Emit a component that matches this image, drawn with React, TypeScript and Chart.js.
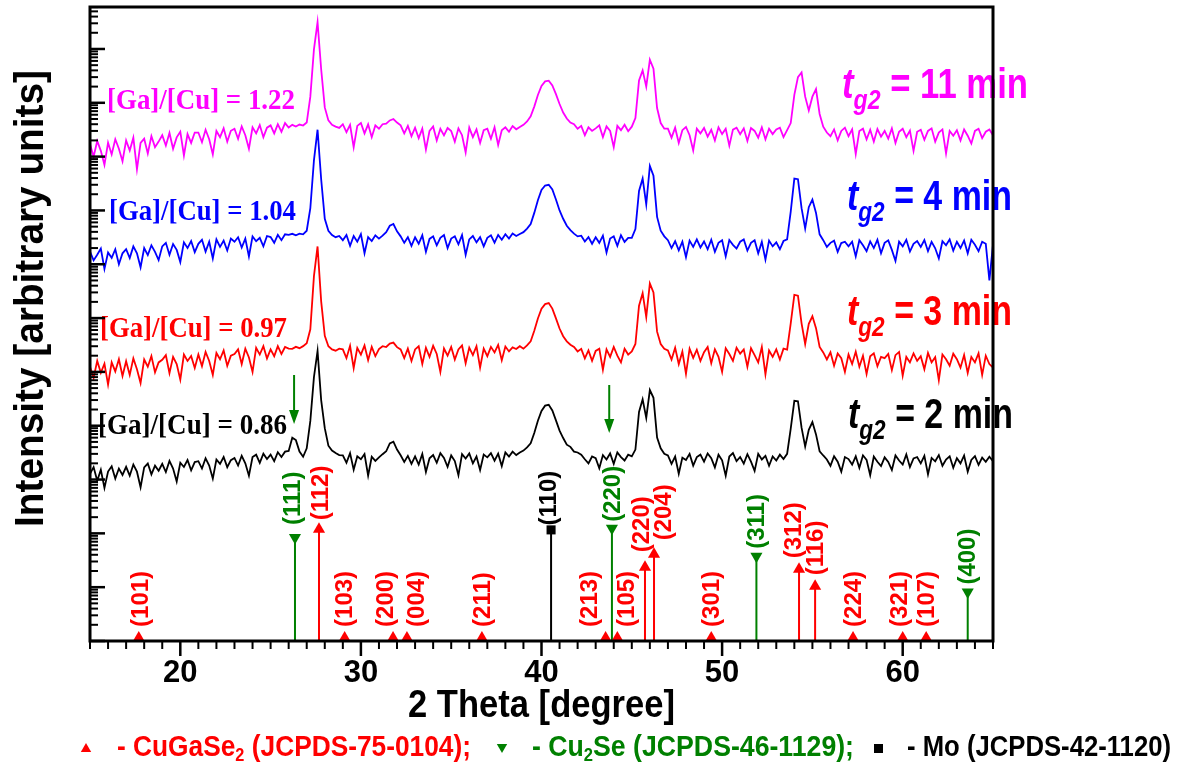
import React, { useEffect, useRef } from 'react';
import { Chart, registerables } from 'chart.js';

Chart.register(...registerables);

// ---- scan grid (2θ, degrees) ----
const TWO_THETA_START = 15;
const TWO_THETA_STEP = 0.2;

// ---- XRD scans (counts), one per growth time ----
// t_g2 = 2 min, [Ga]/[Cu] = 0.86
const counts2min = [
  128, 170, 95, 152, 70, 141, 176, 104, 160, 122,
  172, 118, 190, 140, 72, 168, 198, 125, 181, 146,
  196, 138, 222, 160, 92, 205, 171, 230, 148, 211,
  219, 160, 248, 182, 104, 236, 196, 262, 170, 229,
  252, 182, 276, 200, 118, 262, 290, 204, 302, 240,
  290, 220, 322, 262, 330, 340, 600, 540, 330, 265,
  380, 1230, 8000, 24500, 3000, 900, 425, 345, 310, 285,
  282, 205, 310, 152, 271, 238, 298, 118, 265, 222,
  258, 296, 335, 470, 505, 360, 282, 212, 275, 196,
  270, 190, 298, 138, 248, 285, 205, 310, 252, 172,
  281, 221, 120, 296, 246, 305, 200, 268, 150, 290,
  258, 310, 224, 302, 178, 320, 268, 330, 285, 318,
  345, 395, 470, 730, 1240, 1880, 2360, 2450, 1920, 1260,
  810, 590, 445, 405, 330, 318, 290, 238, 200, 268,
  250, 162, 285, 236, 305, 196, 320, 262, 226, 290,
  270, 360, 1800, 3100, 1400, 4600, 3300, 600, 380, 300,
  280, 196, 268, 128, 255, 230, 300, 182, 262, 290,
  215, 305, 250, 168, 290, 228, 118, 268, 310, 220,
  262, 198, 296, 215, 145, 300, 236, 276, 180, 268,
  226, 290, 240, 300, 880, 2900, 2850, 920, 410, 840,
  1170, 690, 335, 280, 236, 180, 272, 215, 140, 262,
  240, 190, 270, 165, 282, 232, 120, 268, 214, 178,
  258, 212, 150, 280, 226, 190, 292, 170, 246, 262,
  200, 275, 125, 252, 218, 285, 180, 236, 270, 165,
  250, 200, 280, 140, 232, 272, 188, 256, 214, 266,
  220,
];
// t_g2 = 3 min, [Ga]/[Cu] = 0.97
const counts3min = [
  125, 78, 160, 96, 142, 58, 150, 102, 172, 84,
  158, 88, 178, 112, 62, 170, 125, 196, 98, 150,
  168, 205, 95, 190, 140, 72, 210, 160, 198, 118,
  210, 128, 235, 160, 88, 225, 172, 250, 130, 200,
  215, 262, 140, 270, 185, 100, 280, 210, 300, 178,
  262, 196, 300, 215, 290, 271, 268, 292, 276, 301,
  340, 620, 6000, 21400, 2050, 470, 300, 262, 248, 271,
  262, 180, 305, 118, 280, 210, 310, 165, 292, 196,
  265, 300, 290, 335, 350, 288, 262, 180, 270, 160,
  262, 300, 140, 280, 190, 305, 215, 100, 272, 200,
  290, 170, 262, 310, 145, 282, 205, 300, 120, 270,
  196, 292, 230, 318, 165, 296, 240, 285, 266, 300,
  270, 310, 370, 580, 980, 1500, 1820, 1900, 1500, 990,
  640, 460, 370, 320, 290, 240, 268, 178, 250, 160,
  245, 270, 110, 262, 190, 290, 200, 150, 270, 210,
  240, 330, 1700, 2900, 1050, 4400, 3000, 560, 330, 270,
  250, 170, 280, 140, 238, 92, 270, 182, 258, 160,
  232, 290, 145, 262, 190, 100, 275, 215, 160, 280,
  218, 262, 125, 275, 205, 150, 290, 90, 250, 190,
  262, 170, 270, 260, 800, 2700, 2600, 800, 330, 780,
  1080, 650, 290, 230, 170, 232, 130, 220, 180, 100,
  210, 140, 236, 125, 200, 92, 195, 222, 128, 190,
  180, 215, 108, 205, 235, 85, 190, 150, 220, 160,
  196, 112, 225, 150, 188, 70, 210, 172, 130, 218,
  172, 120, 205, 96, 190, 150, 222, 88, 200, 140,
  120,
];
// t_g2 = 4 min, [Ga]/[Cu] = 1.04
const counts4min = [
  172, 118, 150, 195, 82, 165, 132, 190, 100, 160,
  190, 130, 215, 160, 88, 200, 148, 225, 170, 120,
  215, 250, 150, 238, 185, 110, 255, 200, 270, 168,
  240, 285, 172, 262, 128, 290, 210, 275, 180, 300,
  262, 318, 205, 300, 140, 330, 268, 310, 215, 335,
  320, 250, 352, 280, 360, 352, 368, 345, 371, 360,
  420, 1100, 8500, 31600, 3800, 700, 420, 350, 318, 335,
  280, 350, 220, 335, 262, 362, 160, 320, 270, 345,
  300, 340, 395, 520, 560, 410, 330, 250, 318, 220,
  318, 240, 345, 170, 296, 330, 225, 310, 350, 200,
  300, 330, 235, 348, 150, 290, 335, 255, 318, 215,
  310, 345, 252, 350, 285, 362, 300, 372, 336, 365,
  395, 460, 560, 900, 1550, 2400, 2900, 3000, 2450, 1600,
  1000, 700, 520, 430, 370, 330, 340, 265, 320, 240,
  318, 250, 340, 165, 300, 330, 220, 345, 260, 310,
  310, 450, 2300, 3900, 1300, 6700, 4400, 760, 420, 330,
  280, 200, 268, 182, 262, 135, 275, 210, 290, 205,
  265, 190, 285, 170, 250, 278, 140, 282, 230, 196,
  262, 290, 180, 250, 280, 160, 260, 122, 275, 215,
  255, 190, 270, 290, 950, 3900, 3800, 1100, 460, 1150,
  1590, 900, 360, 280, 210, 250, 275, 170, 248, 262,
  215, 262, 140, 280, 225, 175, 266, 200, 285, 160,
  250, 278, 185, 115, 262, 215, 285, 172, 240, 270,
  210, 282, 175, 260, 198, 128, 268, 225, 290, 180,
  262, 200, 275, 160, 285, 230, 175, 262, 240, 50,
  231,
];
// t_g2 = 11 min, [Ga]/[Cu] = 1.22
const counts11min = [
  170, 100, 195, 128, 70, 182, 110, 210, 140, 82,
  200, 130, 225, 58, 180, 215, 115, 240, 150, 190,
  250, 160, 275, 140, 228, 290, 105, 262, 180, 280,
  280, 185, 315, 210, 110, 300, 230, 335, 190, 302,
  330, 215, 365, 250, 140, 350, 270, 385, 230, 345,
  380, 270, 400, 290, 420, 348, 389, 362, 395, 378,
  430, 1300, 9800, 31600, 4200, 820, 470, 390, 362, 341,
  400, 285, 390, 150, 372, 420, 270, 398, 230, 380,
  330, 400, 410, 470, 500, 430, 380, 270, 372, 240,
  345, 220, 330, 135, 300, 362, 200, 330, 248, 340,
  300, 190, 335, 250, 120, 345, 230, 320, 180, 310,
  330, 215, 350, 165, 310, 350, 290, 370, 322, 356,
  390, 450, 560, 850, 1400, 2050, 2500, 2570, 2100, 1450,
  950, 660, 510, 430, 400, 330, 372, 250, 350, 300,
  335, 380, 230, 365, 300, 150, 372, 310, 390, 296,
  360, 520, 2600, 4000, 2000, 6300, 4300, 800, 420, 330,
  330, 225, 345, 180, 310, 355, 250, 130, 330, 270,
  340, 235, 315, 200, 350, 262, 330, 160, 318, 345,
  260, 335, 195, 340, 300, 225, 350, 210, 330, 262,
  320, 345, 230, 310, 420, 1400, 3000, 3650, 1300, 720,
  1300, 1800, 620, 360, 280, 240, 320, 200, 300, 345,
  240, 320, 112, 300, 330, 210, 315, 190, 325, 235,
  300, 215, 335, 180, 290, 330, 230, 305, 128, 290,
  315, 205, 300, 335, 190, 280, 320, 115, 300, 245,
  310, 200, 320, 245, 175, 300, 330, 220, 290, 320,
  250,
];

// multiplicative offsets used to stack the scans on the log axis
const scanOffsets = [10, 1e3, 1e5, 1e7];
const scanRatios = ['[Ga]/[Cu] = 0.86', '[Ga]/[Cu] = 0.97', '[Ga]/[Cu] = 1.04', '[Ga]/[Cu] = 1.22'];
const scanTimes = [' = 2 min', ' = 3 min', ' = 4 min', ' = 11 min'];

// ---- JCPDS reference lines (2θ, relative intensity, hkl) ----
const cgsTwoTheta = [17.7, 27.68, 29.1, 31.78, 32.55, 36.7, 43.55, 44.2, 45.73, 46.23, 49.4, 54.26, 55.15, 57.25, 60.0, 61.3];
const cgsIntensity = [1.14, 119, 1.14, 1.14, 1.14, 1.14, 1.14, 1.14, 23.4, 40.8, 1.14, 21.5, 10.4, 1.14, 1.14, 1.14];
const cgsHkl = ['(101)', '(112)', '(103)', '(200)', '(004)', '(211)', '(213)', '(105)', '(220)', '(204)', '(301)', '(312)', '(116)', '(224)', '(321)', '(107)'];

const cu2seTwoTheta = [26.35, 43.9, 51.9, 63.6];
const cu2seIntensity = [84, 124, 37.5, 8.1];
const cu2seHkl = ['(111)', '(220)', '(311)', '(400)'];

const moTwoTheta = [40.53];
const moIntensity = [116];
const moHkl = ['(110)'];

// Cu2Se shoulder marks on the bottom scan (2θ)
const cu2seArrowTwoTheta = [26.3, 43.75];

// axis ranges
const X_MIN = 15;
const X_MAX = 65;
const Y_MIN = 1;
const Y_MAX = Math.pow(10, 11.78);

// ---- styles ----
const SANS = '"Liberation Sans", Arial, Helvetica, sans-serif';
const SERIF = '"Liberation Serif", "Times New Roman", serif';
const RED = '#ff0000';
const GREEN = '#008000';
const BLUE = '#0000ff';
const MAGENTA = '#ff00ff';
const BLACK = '#000000';
const scanColors = [BLACK, RED, BLUE, MAGENTA];

// text placement (pixels) for the annotations
const ratioText = [
  { x: 98, y: 434, w: 189 },
  { x: 100, y: 337, w: 187 },
  { x: 109, y: 220, w: 187 },
  { x: 107, y: 109, w: 188 },
];
const timeText = [
  { x: 848, y: 428, w: 165 },
  { x: 847, y: 325, w: 165 },
  { x: 847, y: 210, w: 165 },
  { x: 842, y: 98, w: 186 },
];
const arrowSpan = [
  [375, 424],
  [385, 433],
];
// label nudges [dx px, extra gap px]
const labelNudge: Record<string, [number, number]> = {
  'c(101)': [2, 0],
  'c(112)': [1, -2],
  'c(200)': [-8, 0],
  'c(004)': [9, 0],
  'c(213)': [-16, 0],
  'c(105)': [9, 0],
  'c(220)': [-4, 4],
  'c(204)': [9, 3],
  'c(312)': [-6, 0],
  'c(321)': [-3, 0],
  'g(111)': [-3, 5],
  'g(220)': [0, -1],
  'm(110)': [-3, -4],
};

function stickData(pos: number[], ints: number[]) {
  const out: any[] = [];
  pos.forEach((p, i) => {
    out.push({ x: p, y: Y_MIN }, { x: p, y: ints[i] }, { x: p, y: null });
  });
  return out;
}

function drawRich(ctx: any, segs: { t: string; font: string; dy?: number }[], x: number, y: number, width: number | null, color: string, rot = 0) {
  ctx.save();
  let total = 0;
  const ws = segs.map((s) => {
    ctx.font = s.font;
    const w = ctx.measureText(s.t).width;
    total += w;
    return w;
  });
  const sx = width ? width / total : 1;
  ctx.translate(x, y);
  if (rot) ctx.rotate(rot);
  ctx.scale(sx, 1);
  ctx.fillStyle = color;
  ctx.textBaseline = 'alphabetic';
  ctx.textAlign = 'left';
  let cx = 0;
  segs.forEach((s, i) => {
    ctx.font = s.font;
    ctx.fillText(s.t, cx, s.dy || 0);
    cx += ws[i];
  });
  ctx.restore();
}

function triangle(ctx: any, x: number, y: number, r: number, down: boolean, color: string) {
  ctx.save();
  ctx.fillStyle = color;
  ctx.beginPath();
  const s = down ? -1 : 1;
  ctx.moveTo(x, y - s * r);
  ctx.lineTo(x + r * 0.866, y + s * r * 0.5);
  ctx.lineTo(x - r * 0.866, y + s * r * 0.5);
  ctx.closePath();
  ctx.fill();
  ctx.restore();
}

const decorPlugin = {
  id: 'decor',
  afterDatasetsDraw(chart: any) {
    const { ctx, chartArea: a, scales } = chart;
    const xs = scales.x;
    const ys = scales.y;
    ctx.save();

    // reference line labels
    const families = [
      { key: 'c', pos: cgsTwoTheta, ints: cgsIntensity, hkl: cgsHkl, color: RED, top: 7 },
      { key: 'g', pos: cu2seTwoTheta, ints: cu2seIntensity, hkl: cu2seHkl, color: GREEN, top: 3.5 },
      { key: 'm', pos: moTwoTheta, ints: moIntensity, hkl: moHkl, color: BLACK, top: 4.5 },
    ];
    ctx.font = `bold 24px ${SANS}`;
    families.forEach((f) => {
      f.pos.forEach((p, i) => {
        const nudge = labelNudge[f.key + f.hkl[i]] || [0, 0];
        const px = xs.getPixelForValue(p) + nudge[0];
        const py = ys.getPixelForValue(f.ints[i]);
        const bottom = py - f.top - 4 - nudge[1];
        ctx.save();
        ctx.translate(px, bottom);
        ctx.rotate(-Math.PI / 2);
        ctx.fillStyle = f.color;
        ctx.textAlign = 'left';
        ctx.textBaseline = 'middle';
        ctx.fillText(f.hkl[i], 0, 1);
        ctx.restore();
      });
    });

    // Cu2Se arrows on the bottom scan
    cu2seArrowTwoTheta.forEach((t, i) => {
      const px = xs.getPixelForValue(t);
      const [y0, y1] = arrowSpan[i];
      ctx.strokeStyle = GREEN;
      ctx.lineWidth = 2;
      ctx.beginPath();
      ctx.moveTo(px, y0);
      ctx.lineTo(px, y1 - 12);
      ctx.stroke();
      ctx.fillStyle = GREEN;
      ctx.beginPath();
      ctx.moveTo(px - 5, y1 - 14);
      ctx.lineTo(px + 5, y1 - 14);
      ctx.lineTo(px, y1);
      ctx.closePath();
      ctx.fill();
    });

    // scan annotations
    scanRatios.forEach((t, i) => {
      const p = ratioText[i];
      drawRich(ctx, [{ t, font: `bold 30px ${SERIF}` }], p.x, p.y, p.w, scanColors[i]);
    });
    scanTimes.forEach((t, i) => {
      const p = timeText[i];
      drawRich(
        ctx,
        [
          { t: 't', font: `italic bold 42px ${SANS}` },
          { t: 'g2', font: `italic bold 28px ${SANS}`, dy: 11 },
          { t, font: `bold 42px ${SANS}` },
        ],
        p.x, p.y, p.w, scanColors[i]
      );
    });

    // frame
    ctx.strokeStyle = BLACK;
    ctx.lineWidth = 3;
    ctx.strokeRect(a.left, a.top, a.right - a.left, a.bottom - a.top);

    // x ticks (outward)
    xs.ticks.forEach((t: any) => {
      const px = xs.getPixelForValue(t.value);
      const major = Math.abs(t.value % 10) < 1e-6;
      ctx.lineWidth = major ? 2.5 : 2;
      ctx.beginPath();
      ctx.moveTo(px, a.bottom);
      ctx.lineTo(px, a.bottom + (major ? 15 : 8));
      ctx.stroke();
    });
    // y ticks (inward)
    ys.ticks.forEach((t: any) => {
      const py = ys.getPixelForValue(t.value);
      const lg = Math.log10(t.value);
      const major = Math.abs(lg - Math.round(lg)) < 1e-9;
      ctx.lineWidth = major ? 2.5 : 2;
      ctx.beginPath();
      ctx.moveTo(a.left, py);
      ctx.lineTo(a.left + (major ? 15 : 8), py);
      ctx.stroke();
    });

    // axis titles
    drawRich(ctx, [{ t: 'Intensity [arbitrary units]', font: `bold 40px ${SANS}` }], 43, 527, 457, BLACK, -Math.PI / 2);
    drawRich(ctx, [{ t: '2 Theta [degree]', font: `bold 38px ${SANS}` }], 408, 717, 267, BLACK);

    // phase key
    triangle(ctx, 86, 749, 6, false, RED);
    drawRich(ctx, [
      { t: '- CuGaSe', font: `bold 29px ${SANS}` },
      { t: '2', font: `bold 18px ${SANS}`, dy: 5 },
      { t: ' (JCPDS-75-0104);', font: `bold 29px ${SANS}` },
    ], 117, 756, 354, RED);
    triangle(ctx, 502, 747, 6, true, GREEN);
    drawRich(ctx, [
      { t: '- Cu', font: `bold 29px ${SANS}` },
      { t: '2', font: `bold 18px ${SANS}`, dy: 5 },
      { t: 'Se (JCPDS-46-1129);', font: `bold 29px ${SANS}` },
    ], 532, 756, 322, GREEN);
    ctx.fillStyle = BLACK;
    ctx.fillRect(874, 744, 9, 9);
    drawRich(ctx, [{ t: '- Mo (JCPDS-42-1120)', font: `bold 29px ${SANS}` }], 907, 756, 264, BLACK);

    ctx.restore();
  },
};

const scans = [counts2min, counts3min, counts4min, counts11min];

function buildConfig(): any {
  const scanSets = scans.map((c, k) => ({
    type: 'line',
    data: c.map((v, i) => ({ x: +(TWO_THETA_START + i * TWO_THETA_STEP).toFixed(2), y: v * scanOffsets[k] })),
    borderColor: scanColors[k],
    borderWidth: 1.8,
    pointRadius: 0,
    tension: 0,
    order: 1,
  }));
  const sticks = [
    { pos: cgsTwoTheta, ints: cgsIntensity, color: RED, style: 'triangle', rot: 0, r: 7 },
    { pos: cu2seTwoTheta, ints: cu2seIntensity, color: GREEN, style: 'triangle', rot: 180, r: 7 },
    { pos: moTwoTheta, ints: moIntensity, color: BLACK, style: 'rect', rot: 0, r: 6.4 },
  ];
  const stickSets: any[] = [];
  sticks.forEach((s) => {
    stickSets.push({
      type: 'line',
      data: stickData(s.pos, s.ints),
      borderColor: s.color,
      borderWidth: 2,
      pointRadius: 0,
      spanGaps: false,
      order: 2,
    });
    stickSets.push({
      type: 'line',
      data: s.pos.map((p, i) => ({ x: p, y: s.ints[i] })),
      showLine: false,
      pointStyle: s.style,
      pointRotation: s.rot,
      pointRadius: s.r,
      pointBackgroundColor: s.color,
      pointBorderColor: s.color,
      pointBorderWidth: 0,
      order: 0,
    });
  });

  return {
    type: 'line',
    data: { datasets: [...scanSets, ...stickSets] },
    options: {
      animation: false,
      responsive: false,
      maintainAspectRatio: false,
      events: [],
      layout: { padding: { left: 90, right: 196, top: 5, bottom: 0 } },
      plugins: { legend: { display: false }, tooltip: { enabled: false } },
      scales: {
        x: {
          type: 'linear',
          min: X_MIN,
          max: X_MAX,
          grid: { display: false, drawTicks: false },
          border: { display: false },
          afterBuildTicks: (s: any) => {
            const t: any[] = [];
            for (let v = X_MIN; v <= X_MAX; v++) t.push({ value: v });
            s.ticks = t;
          },
          ticks: {
            autoSkip: false,
            maxRotation: 0,
            padding: 14,
            color: BLACK,
            font: { family: SANS, size: 31, weight: 'bold' },
            callback: (v: any) => (Math.abs(v % 10) < 1e-6 ? String(v) : ''),
          },
          afterFit: (s: any) => {
            s.height = 131;
          },
        },
        y: {
          type: 'logarithmic',
          min: Y_MIN,
          max: Y_MAX,
          grid: { display: false, drawTicks: false },
          border: { display: false },
          ticks: { display: false },
          afterBuildTicks: (s: any) => {
            const t: any[] = [];
            for (let n = 0; n <= 11; n++) {
              for (let k = 1; k <= 9; k++) {
                const v = k * Math.pow(10, n);
                if (v <= Y_MAX) t.push({ value: v });
              }
            }
            s.ticks = t;
          },
          afterFit: (s: any) => {
            s.width = 0;
          },
        },
      },
    },
    plugins: [decorPlugin],
  };
}

export default function App() {
  const ref = useRef<HTMLCanvasElement>(null);
  useEffect(() => {
    const chart = new Chart(ref.current as HTMLCanvasElement, buildConfig());
    return () => chart.destroy();
  }, []);
  return (
    <div style={{ position: 'fixed', left: 0, top: 0, width: 1189, height: 772, background: '#ffffff' }}>
      <canvas ref={ref} width={1189} height={772} style={{ display: 'block', width: 1189, height: 772 }} />
    </div>
  );
}
